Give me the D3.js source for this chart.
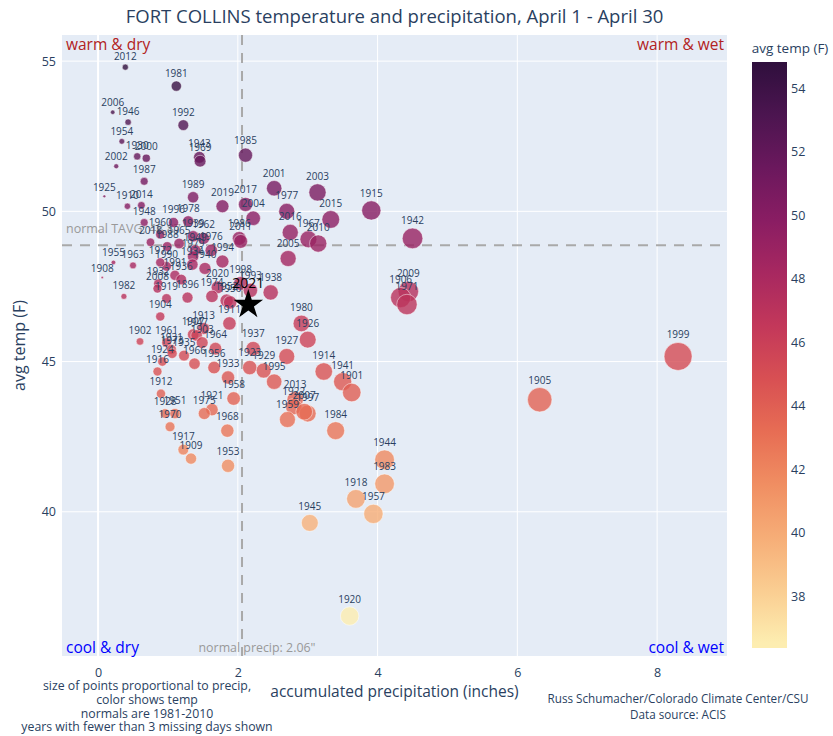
<!DOCTYPE html>
<html>
<head>
<meta charset="utf-8">
<script src="https://cdn.jsdelivr.net/npm/d3@7"></script>
<style>
  body { margin: 0; background: #fff; }
  text { font-family: "Open Sans", "DejaVu Sans", sans-serif; }
</style>
</head>
<body>
<div id="chart"></div>
<script>
// April 1-30 totals per year (years with <3 missing days)
var years = [2012,1981,2006,1946,1992,1954,1930,2000,1943,1969,1985,2002,1987,1925,1910,2014,1989,2019,2017,2004,
  2001,2003,1977,2015,2016,1967,2010,2005,1915,1942,1986,2011,1994,1948,1996,1978,1960,1939,1962,2018,
  1965,1988,1949,1979,1976,1934,1940,1990,1972,1991,1936,1932,2008,1896,1919,1982,1955,1963,1908,2020,
  1974,1952,1950,1998,1993,1938,1911,1904,1913,1907,1947,1903,1964,1902,1961,1931,1973,1935,1924,1966,
  1956,1916,1933,1912,1958,1921,1975,1928,1951,1970,1968,1917,1909,1953,1980,1926,1937,1927,1923,1929,
  1995,1914,1941,1901,2013,1922,1959,1997,2007,1984,1944,1983,1918,1957,1945,1920,1999,1905,2009,1906,1971];

var precip = [0.39,1.12,0.21,0.43,1.22,0.34,0.56,0.69,1.45,1.46,2.11,0.26,0.66,0.09,0.42,0.62,1.36,1.78,2.11,2.22,
  2.52,3.14,2.70,3.33,2.75,3.01,3.15,2.72,3.91,4.50,2.02,2.04,1.78,0.66,1.08,1.29,0.89,1.36,1.51,0.75,
  1.16,0.99,1.39,1.36,1.62,1.35,1.53,0.98,0.89,1.10,1.19,0.86,0.85,1.28,0.98,0.37,0.22,0.50,0.06,1.71,
  1.63,1.84,1.89,2.04,2.18,2.47,1.88,0.89,1.51,1.36,1.41,1.49,1.68,0.60,0.98,1.05,1.06,1.23,0.92,1.38,
  1.66,0.85,1.86,0.90,1.94,1.63,1.52,0.96,1.10,1.03,1.85,1.22,1.33,1.86,2.91,3.00,2.22,2.70,2.17,2.37,
  2.52,3.23,3.50,3.63,2.82,2.80,2.71,3.00,2.95,3.40,4.10,4.10,3.69,3.94,3.03,3.60,8.30,6.32,4.44,4.33,4.42];

var temps = [54.80,54.17,53.30,52.97,52.87,52.33,51.83,51.77,51.80,51.67,51.87,51.50,51.00,50.50,50.17,50.20,50.47,50.17,50.23,49.77,
  50.77,50.63,50.00,49.73,49.30,49.07,48.93,48.43,50.03,49.10,49.10,49.00,48.33,49.63,49.63,49.67,49.23,49.17,49.10,48.97,
  48.93,48.83,48.70,48.50,48.70,48.23,48.10,48.17,48.30,47.87,47.73,47.60,47.43,47.13,47.10,47.17,48.30,48.20,47.80,47.47,
  47.17,47.03,46.97,47.60,47.37,47.30,46.27,46.50,46.10,45.90,45.87,45.63,45.43,45.67,45.63,45.40,45.27,45.20,45.00,44.93,
  44.80,44.67,44.47,43.93,43.77,43.40,43.27,43.27,43.27,42.83,42.70,42.07,41.77,41.53,46.27,45.73,45.43,45.17,44.80,44.70,
  44.33,44.67,44.33,43.97,43.73,43.50,43.07,43.27,43.33,42.70,41.73,40.93,40.43,39.93,39.63,36.53,45.17,43.73,47.33,47.13,46.90];

var currentYear = "2021", currentPrecip = 2.15, currentTemp = 46.93;
var normalPrecip = 2.06, normalTemp = 48.87;

var xTicks = [0, 2, 4, 6, 8];
var yTicks = [40, 45, 50, 55];
var cbarTicks = [38, 40, 42, 44, 46, 48, 50, 52, 54];

// plotly "matter" colorscale
var matter = ["rgb(253,237,176)","rgb(250,205,145)","rgb(246,173,119)","rgb(240,142,98)","rgb(231,109,84)",
  "rgb(216,80,83)","rgb(195,56,90)","rgb(168,40,96)","rgb(138,29,99)","rgb(107,24,93)","rgb(76,21,80)","rgb(47,15,61)"];

var points = years.map(function(y, i) { return {year: y, precip: precip[i], temp: temps[i]}; });

var svg = d3.select("#chart").append("svg")
    .attr("width", 833)
    .attr("height", 736);

var plot = {left: 62, right: 727, top: 35, bottom: 656};

var x = d3.scaleLinear().domain([-0.516, 9.0]).range([plot.left, plot.right]);
var y = d3.scaleLinear().domain([35.2, 55.87]).range([plot.bottom, plot.top]);
var r = d3.scaleSqrt().domain([0, 8.3]).range([0, 14]);

var tExtent = d3.extent(temps);
var colorDomain = d3.range(matter.length).map(function(i) {
  return tExtent[0] + i * (tExtent[1] - tExtent[0]) / (matter.length - 1);
});
var color = d3.scaleLinear().domain(colorDomain).range(matter);

// background + grid
svg.append("rect")
    .attr("x", plot.left).attr("y", plot.top)
    .attr("width", plot.right - plot.left).attr("height", plot.bottom - plot.top)
    .attr("fill", "#e5ecf6");

var defs = svg.append("defs");
defs.append("clipPath").attr("id", "clip")
  .append("rect")
    .attr("x", plot.left).attr("y", plot.top)
    .attr("width", plot.right - plot.left).attr("height", plot.bottom - plot.top);

var g = svg.append("g").attr("clip-path", "url(#clip)");

g.selectAll(".vgrid").data(xTicks).enter().append("line")
    .attr("x1", function(d) { return x(d); }).attr("x2", function(d) { return x(d); })
    .attr("y1", plot.top).attr("y2", plot.bottom)
    .attr("stroke", "#fff").attr("stroke-width", function(d) { return d === 0 ? 2 : 1; });

g.selectAll(".hgrid").data(yTicks).enter().append("line")
    .attr("x1", plot.left).attr("x2", plot.right)
    .attr("y1", function(d) { return y(d); }).attr("y2", function(d) { return y(d); })
    .attr("stroke", "#fff").attr("stroke-width", 1);

// normal lines
g.append("line")
    .attr("x1", x(normalPrecip)).attr("x2", x(normalPrecip))
    .attr("y1", plot.top).attr("y2", plot.bottom)
    .attr("stroke", "#a9a9a9").attr("stroke-width", 2).attr("stroke-dasharray", "10,8");

g.append("line")
    .attr("x1", plot.left).attr("x2", plot.right)
    .attr("y1", y(normalTemp)).attr("y2", y(normalTemp))
    .attr("stroke", "#a9a9a9").attr("stroke-width", 2).attr("stroke-dasharray", "10,8");

g.append("text")
    .attr("x", plot.left + 4).attr("y", y(normalTemp) - 12)
    .attr("fill", "#999").style("font-size", "12.5px")
    .text("normal TAVG: " + normalTemp);

g.append("text")
    .attr("x", x(normalPrecip) + 15).attr("y", plot.bottom - 4)
    .attr("text-anchor", "middle")
    .attr("fill", "#999").style("font-size", "12.4px")
    .text("normal precip: " + normalPrecip + "\"");

// points
g.selectAll(".pt").data(points).enter().append("circle")
    .attr("cx", function(d) { return x(d.precip); })
    .attr("cy", function(d) { return y(d.temp); })
    .attr("r", function(d) { return r(d.precip); })
    .attr("fill", function(d) { return color(d.temp); })
    .attr("fill-opacity", 0.8)
    .attr("stroke", "rgba(255,255,255,0.6)")
    .attr("stroke-width", 0.8);

g.selectAll(".lbl").data(points).enter().append("text")
    .attr("x", function(d) { return x(d.precip); })
    .attr("y", function(d) { return y(d.temp) - r(d.precip) - 4; })
    .attr("text-anchor", "middle")
    .attr("fill", "#2a3f5f")
    .style("font-size", "10px")
    .text(function(d) { return d.year; });

// current year star
g.append("path")
    .attr("d", d3.symbol().type(d3.symbolStar).size(270))
    .attr("transform", "translate(" + x(currentPrecip) + "," + (y(currentTemp) + 1) + ")")
    .attr("fill", "#000");

g.append("text")
    .attr("x", x(currentPrecip)).attr("y", y(currentTemp) - 16)
    .attr("text-anchor", "middle")
    .attr("fill", "#000").style("font-size", "14px")
    .text(currentYear);

// quadrant labels
var quad = [
  {t: "warm & dry", x: plot.left + 4, y: plot.top + 15, a: "start", c: "#b22222"},
  {t: "warm & wet", x: plot.right - 3, y: plot.top + 15, a: "end", c: "#b22222"},
  {t: "cool & dry", x: plot.left + 4, y: plot.bottom - 3, a: "start", c: "#0000ff"},
  {t: "cool & wet", x: plot.right - 3, y: plot.bottom - 3, a: "end", c: "#0000ff"}
];
svg.selectAll(".quad").data(quad).enter().append("text")
    .attr("x", function(d) { return d.x; })
    .attr("y", function(d) { return d.y; })
    .attr("text-anchor", function(d) { return d.a; })
    .attr("fill", function(d) { return d.c; })
    .style("font-size", "15.5px")
    .text(function(d) { return d.t; });

// axes
var xAxis = svg.append("g")
    .attr("transform", "translate(0," + plot.bottom + ")")
    .call(d3.axisBottom(x).tickValues(xTicks).tickSize(0).tickPadding(12));
var yAxis = svg.append("g")
    .attr("transform", "translate(" + plot.left + ",0)")
    .call(d3.axisLeft(y).tickValues(yTicks).tickSize(0).tickPadding(6));
[xAxis, yAxis].forEach(function(a) {
  a.select(".domain").remove();
  a.selectAll("text").attr("fill", "#2a3f5f").style("font-size", "12.5px")
    .style("font-family", "\"Open Sans\", sans-serif");
});

svg.append("text")
    .attr("x", (plot.left + plot.right) / 2).attr("y", 697)
    .attr("text-anchor", "middle").attr("fill", "#2a3f5f")
    .style("font-size", "15.5px")
    .text("accumulated precipitation (inches)");

svg.append("text")
    .attr("transform", "translate(25," + ((plot.top + plot.bottom) / 2) + ") rotate(-90)")
    .attr("text-anchor", "middle").attr("fill", "#2a3f5f")
    .style("font-size", "16px")
    .text("avg temp (F)");

svg.append("text")
    .attr("x", (plot.left + plot.right) / 2).attr("y", 23)
    .attr("text-anchor", "middle").attr("fill", "#2a3f5f")
    .style("font-size", "18.5px")
    .text("FORT COLLINS temperature and precipitation, April 1 - April 30");

// notes
var leftNotes = ["size of points proportional to precip,", "color shows temp", "normals are 1981-2010",
  "years with fewer than 3 missing days shown"];
svg.selectAll(".lnote").data(leftNotes).enter().append("text")
    .attr("x", 147).attr("y", function(d, i) { return 690 + i * 13.8; })
    .attr("text-anchor", "middle").attr("fill", "#2a3f5f")
    .style("font-size", "12.3px")
    .text(function(d) { return d; });

var rightNotes = ["Russ Schumacher/Colorado Climate Center/CSU", "Data source: ACIS"];
svg.selectAll(".rnote").data(rightNotes).enter().append("text")
    .attr("x", 678).attr("y", function(d, i) { return 703 + i * 15.5; })
    .attr("text-anchor", "middle").attr("fill", "#2a3f5f")
    .style("font-size", "11.7px")
    .text(function(d) { return d; });

// colorbar
var cb = {x: 752, w: 35, top: 62, bottom: 648};
var cy = d3.scaleLinear().domain(tExtent).range([642.7, 62.6]);
var grad = defs.append("linearGradient")
    .attr("id", "cbgrad").attr("gradientUnits", "userSpaceOnUse")
    .attr("x1", 0).attr("y1", cy(tExtent[0])).attr("x2", 0).attr("y2", cy(tExtent[1]));
grad.selectAll("stop").data(matter).enter().append("stop")
    .attr("offset", function(d, i) { return i / (matter.length - 1); })
    .attr("stop-color", function(d) { return d; });

svg.append("rect")
    .attr("x", cb.x).attr("y", cb.top).attr("width", cb.w).attr("height", cb.bottom - cb.top)
    .attr("fill", "url(#cbgrad)");

var cbAxis = svg.append("g")
    .attr("transform", "translate(" + (cb.x + cb.w) + ",0)")
    .call(d3.axisRight(cy).tickValues(cbarTicks).tickSize(0).tickPadding(4));
cbAxis.select(".domain").remove();
cbAxis.selectAll("text").attr("fill", "#2a3f5f").style("font-size", "12.5px")
    .style("font-family", "\"Open Sans\", sans-serif");

svg.append("text")
    .attr("x", 790).attr("y", 53)
    .attr("text-anchor", "middle").attr("fill", "#2a3f5f")
    .style("font-size", "13.5px")
    .text("avg temp (F)");
</script>
</body>
</html>
